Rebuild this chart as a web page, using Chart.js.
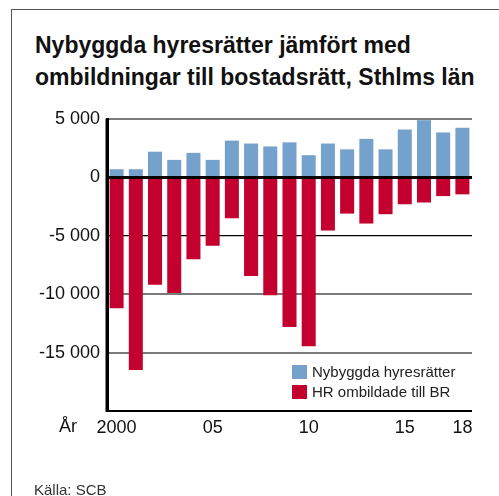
<!DOCTYPE html>
<html>
<head>
<meta charset="utf-8">
<script src="https://cdn.jsdelivr.net/npm/chart.js@4.4.0/dist/chart.umd.min.js"></script>
<style>
  html, body { margin: 0; padding: 0; background: #fff; }
  #wrap { position: relative; width: 499px; height: 496px; overflow: hidden; font-family: "Liberation Sans", Arial, sans-serif; }
  #frame { position: absolute; left: 11px; top: 9px; width: 500px; height: 500px; border-left: 1.5px solid #555; border-top: 1.5px solid #555; }
  #title { position: absolute; left: 35px; top: 29px; font-size: 23px; font-weight: bold; line-height: 32px; color: #111; white-space: nowrap; }
  #chartBox { position: absolute; left: 0; top: 0; width: 499px; height: 496px; }
  .leg { position: absolute; left: 292px; font-size: 15px; color: #222; white-space: nowrap; }
  .leg span { display: inline-block; width: 15px; height: 14px; vertical-align: -2px; margin-right: 5px; }
  #ar { position: absolute; left: 59px; top: 416px; font-size: 18px; color: #111; }
  #source { position: absolute; left: 34px; top: 481px; font-size: 15px; color: #333; }
</style>
</head>
<body>
<div id="wrap">
  <div id="frame"></div>
  <div id="title">Nybyggda hyresrätter jämfört med<br>ombildningar till bostadsrätt, Sthlms län</div>
  <div id="chartBox"><canvas id="myChart" width="499" height="496"></canvas></div>
  <div class="leg" style="top:363px"><span style="background:#74a2cc"></span>Nybyggda hyresrätter</div>
  <div class="leg" style="top:383px"><span style="background:#c4002f"></span>HR ombildade till BR</div>
  <div id="ar">År</div>
  <div id="source">Källa: SCB</div>
</div>
<script>
// data
const years = ['2000','2001','2002','2003','2004','2005','2006','2007','2008','2009',
               '2010','2011','2012','2013','2014','2015','2016','2017','2018'];
const tickLabels = ['2000','','','','','05','','','','','10','','','','','15','','','18'];
const newRentals = [700, 700, 2200, 1500, 2100, 1500, 3150, 2900, 2650, 3000,
                    1900, 2900, 2400, 3300, 2400, 4100, 4900, 3850, 4250];
const converted = [-11200, -16500, -9200, -9900, -7000, -5850, -3500, -8450, -10100, -12800,
                   -14450, -4550, -3100, -3950, -3150, -2300, -2150, -1600, -1450];
const yTicks = [5000, 0, -5000, -10000, -15000, -20000];

function fmt(v) {
  const s = Math.abs(v).toString().replace(/\B(?=(\d{3})+(?!\d))/g, ' ');
  return (v < 0 ? '-' : '') + s;
}

// zero line and axis on top of the bars
const zeroLine = {
  id: 'zeroLine',
  afterDatasetsDraw(chart) {
    const ctx = chart.ctx;
    const area = chart.chartArea;
    const y0 = chart.scales.y.getPixelForValue(0);
    ctx.save();
    ctx.strokeStyle = '#000';
    ctx.lineWidth = 3;
    ctx.beginPath();
    ctx.moveTo(area.left, y0);
    ctx.lineTo(area.right, y0);
    ctx.stroke();
    ctx.beginPath();
    ctx.moveTo(area.left, area.top);
    ctx.lineTo(area.left, area.bottom + 1);
    ctx.stroke();
    ctx.restore();
  }
};

const config = {
  type: 'bar',
  data: {
    labels: years,
    datasets: [
      { label: 'Nybyggda hyresrätter', data: newRentals, backgroundColor: '#74a2cc' },
      { label: 'HR ombildade till BR', data: converted, backgroundColor: '#c4002f' }
    ]
  },
  options: {
    responsive: false,
    animation: false,
    layout: { padding: { left: 0, top: 119, right: 27, bottom: 0 } },
    datasets: { bar: { categoryPercentage: 1, barPercentage: 0.73 } },
    plugins: { legend: { display: false }, tooltip: { enabled: false }, title: { display: false } },
    scales: {
      x: {
        stacked: true,
        grid: { display: false },
        border: { display: false },
        afterFit: (s) => { s.height = 85; },
        ticks: {
          autoSkip: false, maxRotation: 0, padding: -2, color: '#111',
          font: { family: '"Liberation Sans", Arial, sans-serif', size: 18 },
          callback: (v, i) => tickLabels[i]
        }
      },
      y: {
        stacked: true,
        min: -20000, max: 5000,
        afterFit: (s) => { s.width = 107; },
        afterBuildTicks: (axis) => { axis.ticks = yTicks.map(v => ({ value: v })); },
        border: { display: true, color: '#000', width: 3 },
        grid: {
          drawTicks: false,
          color: (c) => {
            const v = c.tick && c.tick.value;
            return (v === -5000 || v === -20000 || v === 0) ? '#000' : '#7a7a7a';
          },
          lineWidth: (c) => {
            const v = c.tick && c.tick.value;
            if (v === -5000) return 1.2;
            return 2;
          }
        },
        ticks: {
          padding: 7, color: '#111',
          font: { family: '"Liberation Sans", Arial, sans-serif', size: 18 },
          callback: (v) => v === -20000 ? '' : fmt(v)
        }
      }
    }
  },
  plugins: [zeroLine]
};

window.onload = function() {
  new Chart(document.getElementById('myChart'), config);
};
</script>
</body>
</html>
